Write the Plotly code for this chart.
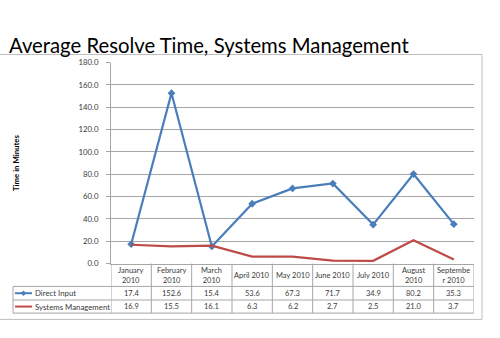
import plotly.graph_objects as go

# ---- data ----
months = ["January 2010", "February 2010", "March 2010", "April 2010", "May 2010",
          "June 2010", "July 2010", "August 2010", "September 2010"]
month_labels = ["January<br>2010", "February<br>2010", "March<br>2010", "April 2010", "May 2010",
                "June 2010", "July 2010", "August<br>2010", "Septembe<br>r 2010"]
direct_input = [17.4, 152.6, 15.4, 53.6, 67.3, 71.7, 34.9, 80.2, 35.3]
systems_mgmt = [16.9, 15.5, 16.1, 6.3, 6.2, 2.7, 2.5, 21.0, 3.7]
series_names = ["Direct Input", "Systems Management"]
title = "Average Resolve Time, Systems Management"
y_title = "Time in Minutes"
y_ticks = [0, 20, 40, 60, 80, 100, 120, 140, 160, 180]

W, H = 500, 338
BLUE = "#4A7EBB"
RED = "#BE4B48"
GRID = "#A6A6A6"
TXT = "#3A3A3A"
FONT = "Lato"

def px(x):
    return x / W

def py(y):
    return 1 - y / H

# layout geometry (pixels)
PL, PR = 111, 474          # plot left/right
PT, PB = 59.3, 266.5       # plot top/bottom
TL = 13                    # table left
R0, R1, R2, R3 = 266.5, 290, 304, 317.5  # table row lines

n = len(months)
xs = list(range(n))

fig = go.Figure()
fig.add_trace(go.Scatter(x=xs, y=direct_input, mode="lines+markers", name=series_names[0],
                         line=dict(color=BLUE, width=2.2),
                         marker=dict(symbol="diamond", size=6, color=BLUE)))
fig.add_trace(go.Scatter(x=xs, y=systems_mgmt, mode="lines", name=series_names[1],
                         line=dict(color=RED, width=2.2)))

shapes = []
annotations = []

# outer chart border
shapes.append(dict(type="rect", xref="paper", yref="paper",
                   x0=px(-2), x1=px(482), y0=py(324), y1=py(51),
                   line=dict(color="#BFBFBF", width=1), layer="below"))

# table horizontal lines
for yy in (R1, R2, R3):
    shapes.append(dict(type="line", xref="paper", yref="paper",
                       x0=px(TL), x1=px(PR), y0=py(yy), y1=py(yy),
                       line=dict(color=GRID, width=1)))
# table vertical lines at category boundaries
for i in range(n + 1):
    shapes.append(dict(type="line", xref="x", yref="paper",
                       x0=i - 0.5, x1=i - 0.5, y0=py(R0), y1=py(R3),
                       line=dict(color=GRID, width=1)))
# legend column left border
shapes.append(dict(type="line", xref="paper", yref="paper",
                   x0=px(TL), x1=px(TL), y0=py(R1), y1=py(R3),
                   line=dict(color=GRID, width=1)))

# legend keys
key_y = [(R1 + R2) / 2, (R2 + R3) / 2]
for k, col in enumerate([BLUE, RED]):
    yk = key_y[k]
    shapes.append(dict(type="line", xref="paper", yref="paper",
                       x0=px(15), x1=px(32), y0=py(yk), y1=py(yk),
                       line=dict(color=col, width=2)))
    annotations.append(dict(x=px(32.5), y=py(yk), xref="paper", yref="paper",
                            text=series_names[k], showarrow=False,
                            xanchor="left", yanchor="middle",
                            font=dict(family=FONT, size=7.8, color=TXT)))
# diamond marker on the Direct Input key
cx, cy, r = 23.5, key_y[0], 2.8
shapes.append(dict(type="path", xref="paper", yref="paper",
                   path=f"M {px(cx)} {py(cy - r)} L {px(cx + r)} {py(cy)} L {px(cx)} {py(cy + r)} L {px(cx - r)} {py(cy)} Z",
                   fillcolor=BLUE, line=dict(color=BLUE, width=0)))

# header labels and values
for i in range(n):
    annotations.append(dict(x=i, y=py((R0 + R1) / 2), xref="x", yref="paper",
                            text=month_labels[i], showarrow=False,
                            xanchor="center", yanchor="middle",
                            font=dict(family=FONT, size=7.5, color=TXT)))
    annotations.append(dict(x=i, y=py(key_y[0]), xref="x", yref="paper",
                            text=f"{direct_input[i]:.1f}", showarrow=False,
                            xanchor="center", yanchor="middle",
                            font=dict(family=FONT, size=7.5, color=TXT)))
    annotations.append(dict(x=i, y=py(key_y[1]), xref="x", yref="paper",
                            text=f"{systems_mgmt[i]:.1f}", showarrow=False,
                            xanchor="center", yanchor="middle",
                            font=dict(family=FONT, size=7.5, color=TXT)))

# title
annotations.append(dict(x=px(7), y=py(41.5), xref="paper", yref="paper",
                        text=title, showarrow=False, xanchor="left", yanchor="middle",
                        font=dict(family=FONT, size=20.3, color="#000000")))
# y-axis title
annotations.append(dict(x=px(16), y=py((PT + PB) / 2), xref="paper", yref="paper",
                        text=f"<b>{y_title}</b>", showarrow=False, textangle=-90,
                        xanchor="center", yanchor="middle",
                        font=dict(family=FONT, size=7.8, color="#000000")))

fig.update_layout(
    width=W, height=H,
    margin=dict(l=0, r=0, t=0, b=0),
    paper_bgcolor="white", plot_bgcolor="white",
    showlegend=False,
    shapes=shapes, annotations=annotations,
    xaxis=dict(domain=[px(PL), px(PR)], range=[-0.5, n - 0.5],
               showticklabels=False, showgrid=False, zeroline=False,
               showline=True, linecolor=GRID, linewidth=1, ticks=""),
    yaxis=dict(domain=[py(PB), py(PT)], range=[0, 180], tickvals=y_ticks,
               tickformat=".1f", showgrid=True, gridcolor=GRID, gridwidth=1,
               zeroline=False, showline=True, linecolor=GRID, linewidth=1,
               ticks="outside", ticklen=4, tickcolor=GRID, ticklabelstandoff=6,
               tickfont=dict(family=FONT, size=7.8, color=TXT)),
)

fig.write_html("out.html")
